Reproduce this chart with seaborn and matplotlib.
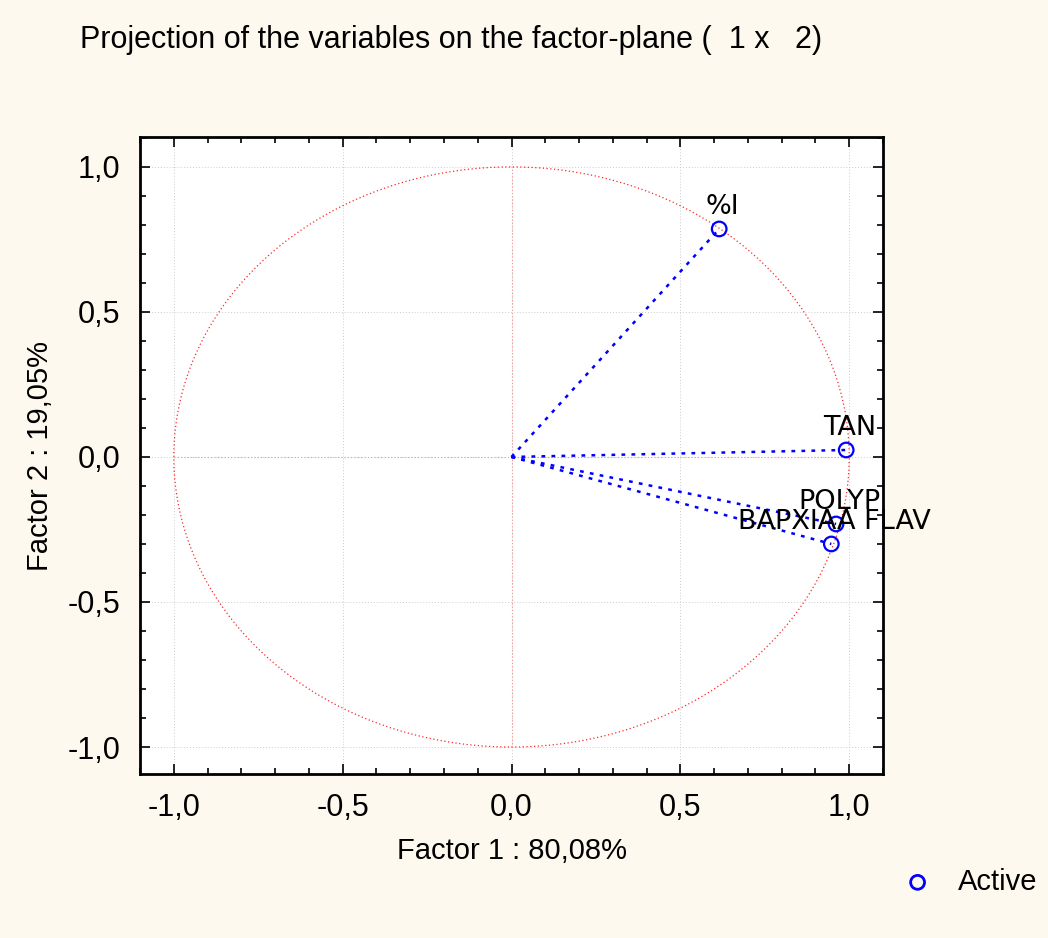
import numpy as np
import pandas as pd
import matplotlib
matplotlib.use('Agg')
import matplotlib.pyplot as plt
import seaborn as sns
from matplotlib.ticker import MultipleLocator, FuncFormatter

# Variable coordinates on factor 1 and factor 2
variables = ['%I', 'TAN', 'POLYP', 'BAPXIAA FLAV']
factor1 = [0.615, 0.991, 0.961, 0.947]
factor2 = [0.786, 0.024, -0.231, -0.300]
pct_f1 = '80,08%'
pct_f2 = '19,05%'

df = pd.DataFrame({'var': variables, 'f1': factor1, 'f2': factor2, 'type': 'Active'})

sns.set_style('white')
plt.rcParams['font.family'] = ['Liberation Sans', 'DejaVu Sans']
plt.rcParams.update({'text.color': 'black', 'axes.labelcolor': 'black',
                     'xtick.color': 'black', 'ytick.color': 'black'})

fig = plt.figure(figsize=(10.48, 9.38), dpi=100, facecolor='#fef9ee')
ax = fig.add_axes([140 / 1048, 1 - 774 / 938, 743 / 1048, 637 / 938])
ax.set_facecolor('white')

# unit circle and zero lines
t = np.linspace(0, 2 * np.pi, 400)
ax.plot(np.cos(t), np.sin(t), color='red', ls=(0, (1, 2)), lw=0.9, alpha=0.85, zorder=1)
ax.plot([-1, 1], [0, 0], color='#ff9090', ls=(0, (1, 2)), lw=0.8, zorder=1)
ax.plot([0, 0], [-1, 1], color='#ff9090', ls=(0, (1, 2)), lw=0.8, zorder=1)

# vectors from origin
for i, row in df.iterrows():
    ax.plot([0, row['f1']], [0, row['f2']], color='blue', ls=(0, (1.5, 2.5)), lw=1.8, zorder=2)

sns.scatterplot(data=df, x='f1', y='f2', hue='type', palette={'Active': 'none'},
                edgecolor='blue', linewidth=1.6, s=110, ax=ax, zorder=3, legend=False)

for i, row in df.iterrows():
    ax.text(row['f1'] + 0.01, row['f2'] + 0.032, row['var'], ha='center', va='bottom',
            fontsize=19.5, family=['DejaVu Sans'], color='black', zorder=4)

ax.set_xlim(-1.1, 1.1)
ax.set_ylim(-1.093, 1.103)
ax.xaxis.set_major_locator(MultipleLocator(0.5))
ax.yaxis.set_major_locator(MultipleLocator(0.5))
ax.xaxis.set_minor_locator(MultipleLocator(0.1))
ax.yaxis.set_minor_locator(MultipleLocator(0.1))
fmt = FuncFormatter(lambda v, p: f'{v:.1f}'.replace('.', ',').replace('-0,0', '0,0'))
ax.xaxis.set_major_formatter(fmt)
ax.yaxis.set_major_formatter(fmt)
ax.tick_params(which='both', direction='in', top=True, right=True, bottom=True, left=True,
               labelsize=22, color='black', labelcolor='black')
ax.tick_params(which='major', length=7, width=1.2, pad=14)
ax.tick_params(which='minor', length=4, width=1.2)
ax.grid(True, which='major', color='#cccccc', ls=(0, (1, 2)), lw=0.7)
for s in ax.spines.values():
    s.set_color('black')
    s.set_linewidth(2)

ax.set_xlabel(f'Factor 1 : {pct_f1}', fontsize=21, labelpad=10, color='black')
ax.set_ylabel(f'Factor 2 : {pct_f2}', fontsize=21, labelpad=10, color='black')

fig.text(80 / 1048, 1 - 40 / 938, 'Projection of the variables on the factor-plane (  1 x   2)',
         fontsize=22, ha='left', va='center', color='black')

# legend
h = ax.scatter([], [], s=100, facecolor='none', edgecolor='blue', linewidth=2.0, label='Active')
fig.legend(handles=[h], labels=['Active'], loc='center left', bbox_to_anchor=(903 / 1048, 1 - 882 / 938),
           frameon=False, fontsize=21, handlelength=1.0, handletextpad=0.9,
           borderpad=0, borderaxespad=0, labelcolor='black')

fig.savefig('out.png', dpi=100, facecolor=fig.get_facecolor())
